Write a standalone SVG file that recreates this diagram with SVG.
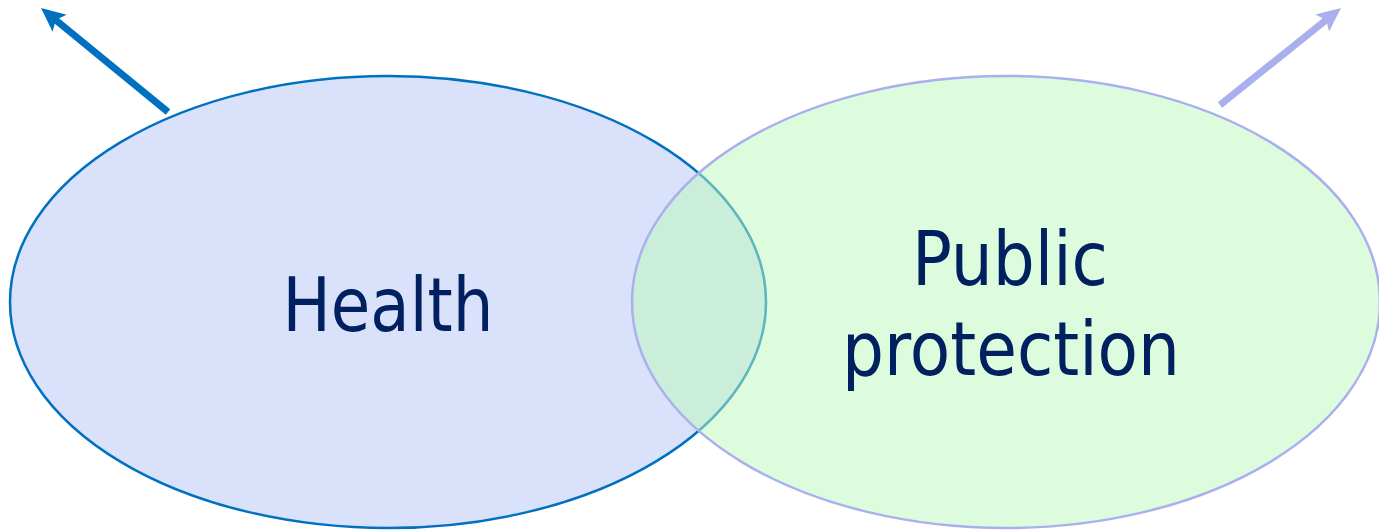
<svg xmlns="http://www.w3.org/2000/svg" width="1379" height="531" viewBox="0 0 1379 531">
  <style>
    .lbl { font-family: "DejaVu Sans", Verdana, sans-serif; font-size: 75px; fill: #002060; text-anchor: middle; }
  </style>
  <defs>
    <marker id="headBlue" viewBox="0 0 24 24" markerWidth="24" markerHeight="24" refX="8" refY="12" orient="auto" markerUnits="userSpaceOnUse">
      <path d="M24,12 L0,1 L5,12 L0,23 Z" fill="#0070c0"/>
    </marker>
    <marker id="headLav" viewBox="0 0 24 24" markerWidth="24" markerHeight="24" refX="8" refY="12" orient="auto" markerUnits="userSpaceOnUse">
      <path d="M24,12 L0,1 L5,12 L0,23 Z" fill="#aab0ee"/>
    </marker>
  </defs>
  <rect width="1379" height="531" fill="#ffffff"/>
  <g id="health">
    <ellipse cx="388" cy="302" rx="378" ry="226" fill="#dae2fb" stroke="#0070c0" stroke-width="2.5"/>
  </g>
  <g id="public-protection">
    <ellipse cx="1006" cy="302" rx="374" ry="226" fill="#bbf9bb" fill-opacity="0.5" stroke="#aab0ee" stroke-width="2.5"/>
  </g>
  <g id="connectors">
    <line x1="168" y1="112" x2="53.4" y2="18.1" stroke="#0070c0" stroke-width="7" marker-end="url(#headBlue)"/>
    <line x1="1220" y1="105" x2="1328.5" y2="18" stroke="#aab0ee" stroke-width="7" marker-end="url(#headLav)"/>
  </g>
  <g id="labels">
    <text class="lbl" x="388" y="331" textLength="211" lengthAdjust="spacingAndGlyphs">Health</text>
    <text class="lbl" x="1010" y="285" textLength="196" lengthAdjust="spacingAndGlyphs">Public</text>
    <text class="lbl" x="1011" y="375" textLength="338" lengthAdjust="spacingAndGlyphs">protection</text>
  </g>
</svg>
